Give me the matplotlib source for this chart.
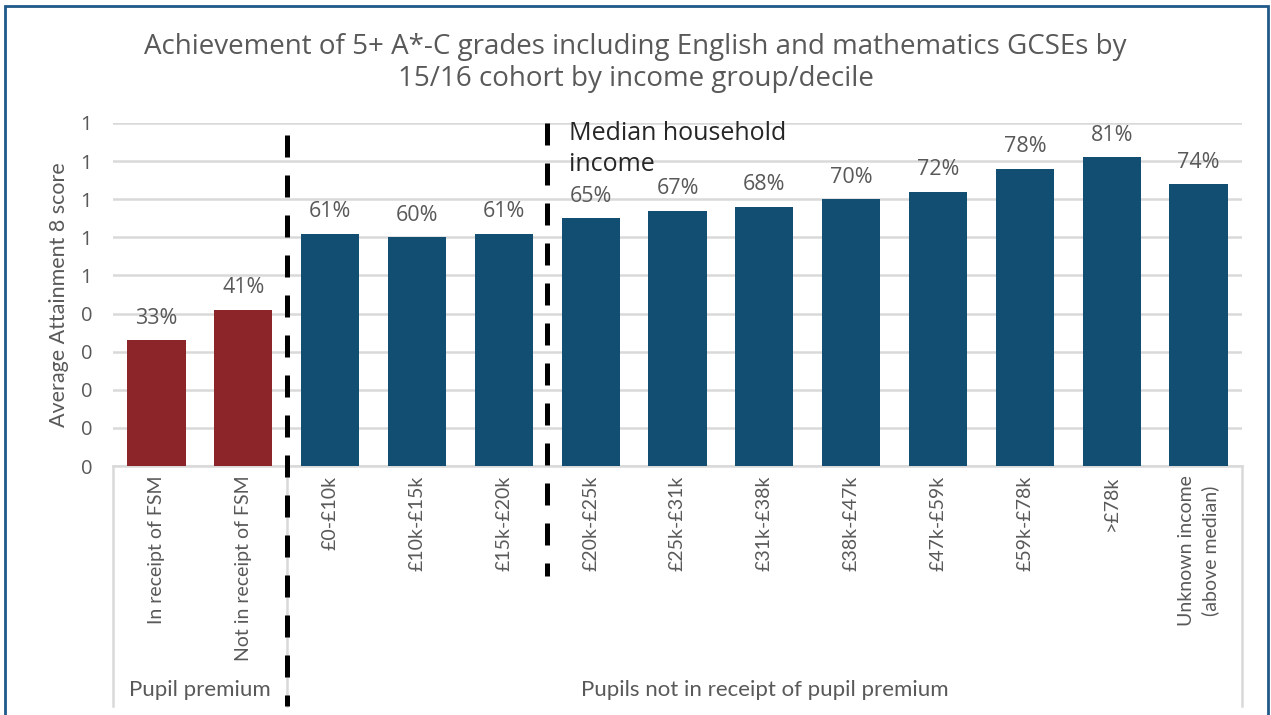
import matplotlib
matplotlib.use("Agg")
import matplotlib.pyplot as plt
from matplotlib.patches import Rectangle
import matplotlib.transforms as mtransforms

categories = ["In receipt of FSM", "Not in receipt of FSM", "£0-£10k", "£10k-£15k",
              "£15k-£20k", "£20k-£25k", "£25k-£31k", "£31k-£38k", "£38k-£47k",
              "£47k-£59k", "£59k-£78k", ">£78k", "Unknown income\n(above median)"]
values = [0.33, 0.41, 0.61, 0.60, 0.61, 0.65, 0.67, 0.68, 0.70, 0.72, 0.78, 0.81, 0.74]
labels = ["33%", "41%", "61%", "60%", "61%", "65%", "67%", "68%", "70%", "72%", "78%", "81%", "74%"]
groups = ["Pupil premium", "Pupils not in receipt of pupil premium"]
group_sizes = [2, 11]
yticks = [0, 0.1, 0.2, 0.3, 0.4, 0.5, 0.6, 0.7, 0.8, 0.9]
ytick_labels = ["0", "0", "0", "0", "0", "1", "1", "1", "1", "1"]

red = "#8B2529"
blue = "#124E72"
grey = "#595959"
gridc = "#D9D9D9"
seg = ['Open Sans', 'DejaVu Sans']

plt.rcParams['font.family'] = ['Lato', 'DejaVu Sans']

fig = plt.figure(figsize=(12.71, 7.15), dpi=100)
W, H = 1271, 715
ax = fig.add_axes([113 / W, (H - 466) / H, (1242 - 113) / W, (466 - 123) / H])

x = list(range(len(categories)))
colors = [red] * group_sizes[0] + [blue] * group_sizes[1]
ax.bar(x, values, width=0.67, color=colors, zorder=3)
for xi, v, lab in zip(x, values, labels):
    ax.text(xi, v + 0.03, lab, ha="center", va="bottom", fontsize=15.5, color=grey, family=seg)

ax.set_xlim(-0.5, len(categories) - 0.5)
ax.set_ylim(0, 0.9)
ax.set_yticks(yticks)
ax.set_yticklabels(ytick_labels, fontsize=14.5, color=grey, family=seg)
ax.yaxis.grid(True, color=gridc, linewidth=1.8)
ax.set_axisbelow(True)
ax.tick_params(axis="y", length=0, pad=15)
ax.tick_params(axis="x", length=0)
for s in ["top", "right", "left"]:
    ax.spines[s].set_visible(False)
ax.spines["bottom"].set_color(gridc)
ax.spines["bottom"].set_linewidth(1.8)
ax.set_xticks(x)
ax.set_xticklabels([])
ax.set_ylabel("Average Attainment 8 score", fontsize=15.5, color=grey, labelpad=8)

trans = mtransforms.blended_transform_factory(ax.transData, ax.transAxes)
ybot = (466 - 706) / 343.0
# category labels
for xi, c in zip(x, categories):
    ax.text(xi, -0.028, c, transform=trans, rotation=90, ha="center", va="top",
            fontsize=14, color=grey, multialignment="center", linespacing=1.45)

# group boxes and labels
start = 0
for g, n in zip(groups, group_sizes):
    ax.plot([start - 0.5, start - 0.5], [0, ybot], transform=trans, color=gridc,
            linewidth=1.8, clip_on=False)
    ax.text(start - 0.5 + n / 2.0, (466 - 690) / 343.0, g, transform=trans,
            ha="center", va="center", fontsize=16, color=grey)
    start += n
ax.plot([start - 0.5, start - 0.5], [0, ybot], transform=trans, color=gridc,
        linewidth=1.8, clip_on=False)

# dashed separators
ax.plot([1.5, 1.5], [(466 - 135) / 343.0, (466 - 706) / 343.0], transform=trans,
        color="black", linewidth=3.6, linestyle=(0, (4.4, 3.6)), clip_on=False, zorder=5)
ax.plot([4.5, 4.5], [1.0, (466 - 576) / 343.0], transform=trans,
        color="black", linewidth=3.6, linestyle=(0, (4.4, 3.6)), clip_on=False, zorder=5)
ax.text(4.75, (466 - 149) / 343.0, "Median household\nincome", transform=trans, ha="left",
        va="center", fontsize=18, color="#262626", linespacing=1.3, family=seg)

fig.text(0.5, 1 - 63 / H, "Achievement of 5+ A*-C grades including English and mathematics GCSEs by\n15/16 cohort by income group/decile",
         ha="center", va="center", fontsize=20, color=grey, linespacing=1.15, family=seg)

fig.patches.append(Rectangle((4.5 / W, -0.05), (1267.5 - 4.5) / W, 1.05 - 6.5 / H,
                             transform=fig.transFigure, fill=False,
                             edgecolor="#1F5A8A", linewidth=2))

fig.savefig("out.png", dpi=100)
